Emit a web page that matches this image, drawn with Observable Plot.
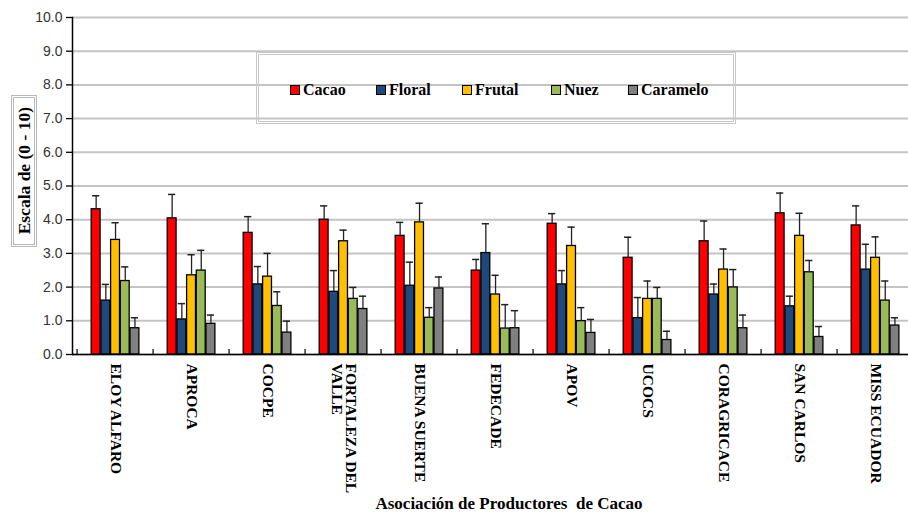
<!DOCTYPE html>
<html>
<head>
<meta charset="utf-8">
<script src="https://cdn.jsdelivr.net/npm/d3@7"></script>
<script src="https://cdn.jsdelivr.net/npm/@observablehq/plot@0.6"></script>
<style>
  html, body { margin: 0; padding: 0; background: #fff; }
  #wrap { position: relative; width: 908px; height: 514px; overflow: hidden; }
  #wrap svg { position: absolute; left: 0; top: 0; }
  .serif { font-family: "Liberation Serif", "Times New Roman", serif; font-weight: bold; color: #000; }
  #ytitle { position: absolute; left: 11px; top: 95px; width: 20px; height: 146px; border: 3px double #b8b8b8;
            display: flex; align-items: center; justify-content: center; background: #fff; }
  #ytitle span { writing-mode: vertical-rl; transform: rotate(180deg); font-size: 17.5px; white-space: nowrap; }
  #legend { position: absolute; left: 256px; top: 52px; width: 474px; height: 66px; border: 3px double #c8c8c8; }
  .item { position: absolute; top: 26px; display: flex; align-items: center; font-size: 16px; white-space: nowrap; }
  .sw { width: 8px; height: 8px; border: 1px solid #000; margin-right: 3px; }
  #xtitle { position: absolute; left: 0; width: 1018px; top: 494px; text-align: center; font-size: 17px; white-space: pre; }
</style>
</head>
<body>
<div id="wrap"></div>
<script>
const categories = ["ELOY ALFARO","APROCA","COCPE","FORTALEZA DEL VALLE","BUENA SUERTE","FEDECADE","APOV","UCOCS","CORAGRICACE","SAN CARLOS","MISS ECUADOR"];
const tickLabels = ["ELOY ALFARO","APROCA","COCPE","FORTALEZA DEL\nVALLE","BUENA SUERTE","FEDECADE","APOV","UCOCS","CORAGRICACE","SAN CARLOS","MISS ECUADOR"];
const seriesNames = ["Cacao","Floral","Frutal","Nuez","Caramelo"];
const colors = ["#ff0000","#1f497d","#ffc000","#9bbb59","#808080"];
const yTicks = [0,1,2,3,4,5,6,7,8,9,10];

const cacao      = [4.31,4.04,3.61,4.00,3.52,2.49,3.88,2.87,3.36,4.19,3.83];
const cacaoSd    = [0.40,0.71,0.48,0.41,0.40,0.33,0.30,0.61,0.60,0.60,0.58];
const floral     = [1.60,1.04,2.08,1.86,2.04,3.01,2.08,1.08,1.78,1.43,2.52];
const floralSd   = [0.48,0.47,0.53,0.63,0.70,0.87,0.41,0.61,0.31,0.30,0.75];
const frutal     = [3.40,2.35,2.31,3.36,3.92,1.78,3.22,1.65,2.52,3.52,2.87];
const frutalSd   = [0.51,0.61,0.69,0.33,0.57,0.57,0.56,0.53,0.61,0.67,0.62];
const nuez       = [2.18,2.49,1.44,1.65,1.09,0.77,0.99,1.65,1.99,2.44,1.60];
const nuezSd     = [0.42,0.60,0.42,0.34,0.30,0.71,0.40,0.34,0.53,0.35,0.58];
const caramelo   = [0.78,0.91,0.65,1.35,1.96,0.78,0.64,0.43,0.78,0.52,0.86];
const carameloSd = [0.31,0.26,0.34,0.38,0.34,0.52,0.40,0.26,0.39,0.31,0.23];

const values = [cacao, floral, frutal, nuez, caramelo];
const sds = [cacaoSd, floralSd, frutalSd, nuezSd, carameloSd];

const x0 = 72, x1 = 917;
const bw = (x1 - x0) / categories.length;
const groupStart = 14.2, barW = 9.7, capHalf = 4;

const marks = [
  Plot.ruleY(yTicks, {stroke: "#c4c4c4", strokeWidth: 2}),
];

seriesNames.forEach((s, i) => {
  const rows = categories.map((c, j) => ({cat: c, v: values[i][j], sd: sds[i][j]}));
  const L = groupStart + i * barW;
  const R = bw - L - barW;
  const c = L + barW / 2;
  marks.push(Plot.barY(rows, {x: "cat", y: "v", fill: colors[i], stroke: "#000", strokeWidth: 1.3, insetLeft: L, insetRight: R}));
  marks.push(Plot.ruleX(rows, {x: "cat", y1: "v", y2: d => d.v + d.sd, dx: c - bw / 2, stroke: "#222", strokeWidth: 1.3}));
  marks.push(Plot.tickY(rows, {x: "cat", y: d => d.v + d.sd, insetLeft: c - capHalf, insetRight: bw - c - capHalf, stroke: "#222", strokeWidth: 1.5}));
});

marks.push(
  Plot.ruleY([0], {stroke: "#000", strokeWidth: 1.5}),
  Plot.frame({anchor: "left", stroke: "#000", strokeWidth: 1.5}),
  Plot.ruleX(categories, {x: d => d, y1: 0, y2: 0.15, dx: -bw / 2, stroke: "#000", strokeWidth: 1.2}),
  Plot.axisY({ticks: yTicks, tickFormat: d => d.toFixed(1), tickSize: 6, tickPadding: 4, fontSize: 14,
              fontFamily: "Liberation Sans, Arial, sans-serif", fill: "#333", stroke: "#000", strokeWidth: 1.3, label: null}),
  Plot.text(categories, {x: d => d, y: 0, text: (d, i) => tickLabels[i], rotate: 90, textAnchor: "start", lineAnchor: "middle",
              lineHeight: 0.93, dy: 9, fontSize: 15.5, fontWeight: "bold", fontFamily: "Liberation Serif, Times New Roman, serif", fill: "#000"})
);

const chart = Plot.plot({
  width: 908,
  height: 514,
  marginLeft: 72,
  marginRight: 0,
  marginTop: 17,
  marginBottom: 160,
  x: {type: "band", domain: categories, range: [x0, x1], padding: 0, axis: null},
  y: {domain: [0, 10], axis: null},
  marks
});

const wrap = document.getElementById("wrap");
wrap.appendChild(chart);

// Y title box
const yt = document.createElement("div");
yt.id = "ytitle"; yt.className = "serif";
yt.innerHTML = "<span>Escala de (0 - 10)</span>";
wrap.appendChild(yt);

// Legend
const lg = document.createElement("div");
lg.id = "legend"; lg.className = "serif";
const itemLeft = [31, 117, 203, 292, 369];
seriesNames.forEach((s, i) => {
  const it = document.createElement("div");
  it.className = "item";
  it.style.left = itemLeft[i] + "px";
  const sw = document.createElement("div");
  sw.className = "sw"; sw.style.background = colors[i];
  const tx = document.createElement("span");
  tx.textContent = s;
  it.appendChild(sw); it.appendChild(tx);
  lg.appendChild(it);
});
wrap.appendChild(lg);

// X title
const xt = document.createElement("div");
xt.id = "xtitle"; xt.className = "serif";
xt.textContent = "Asociación de Productores  de Cacao";
wrap.appendChild(xt);
</script>
</body>
</html>
